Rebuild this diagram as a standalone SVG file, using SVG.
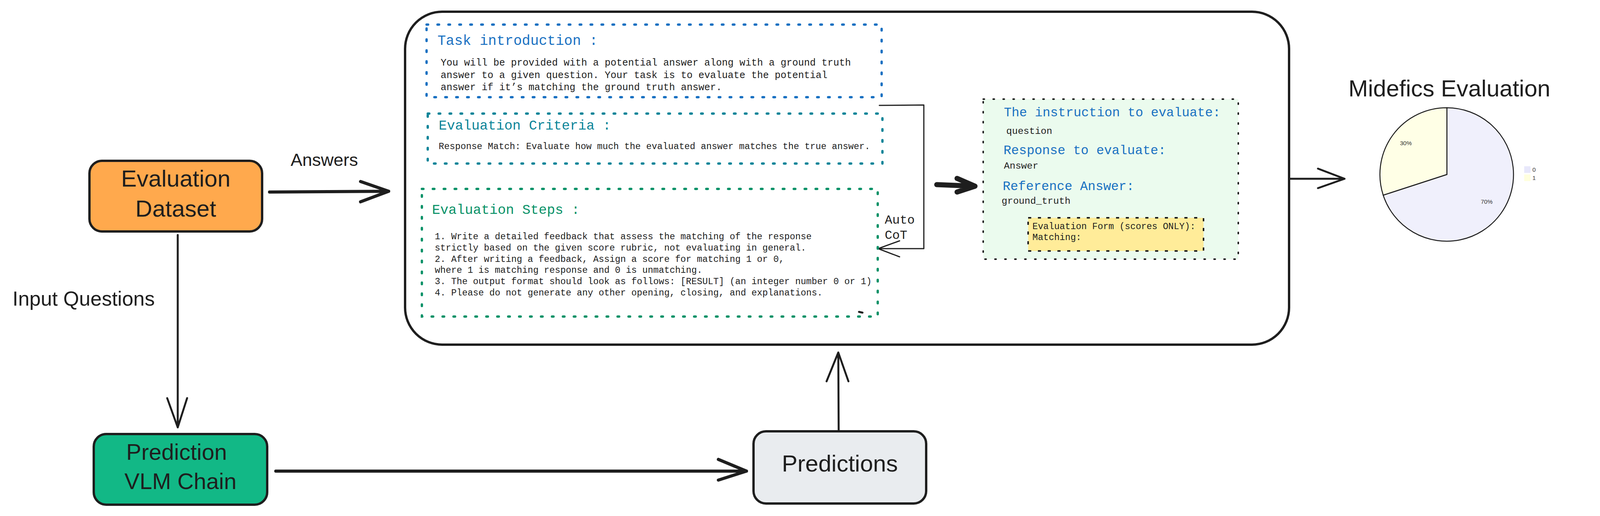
<svg xmlns="http://www.w3.org/2000/svg" width="4317" height="1322" viewBox="0 0 4317 1322">
<style>
  .hand { font-family: "Liberation Sans", "DejaVu Sans", sans-serif; fill: #1e1e1e; }
  .mono { font-family: "Liberation Mono", "DejaVu Sans Mono", monospace; fill: #1e1e1e; }
  .node { stroke: #1e1e1e; stroke-width: 6; }
  .conn { fill: none; stroke: #1e1e1e; stroke-linecap: round; stroke-linejoin: round; }
  .dotted { fill: none; stroke-width: 6; stroke-linecap: round; stroke-dasharray: 4 24; }
</style>
<rect width="4317" height="1322" fill="#ffffff"/>

<g id="connectors">
  <!-- Answers: Evaluation Dataset -> prompt box -->
  <path class="conn" stroke-width="8" d="M690 492 L995 490 M923 465 L995 490 L923 517"/>
  <!-- Input Questions: Evaluation Dataset -> Prediction VLM Chain -->
  <path class="conn" stroke-width="5" d="M455 602 L455 1095 M428 1020 L455 1095 L479 1020"/>
  <!-- Prediction VLM Chain -> Predictions -->
  <path class="conn" stroke-width="8" d="M706 1207 L1911 1207 M1839 1177 L1911 1207 L1839 1230"/>
  <!-- Predictions -> prompt box -->
  <path class="conn" stroke-width="5" d="M2147 1105 L2146 903 M2116 977 L2146 903 L2172 977"/>
  <!-- Auto CoT loop -->
  <path class="conn" stroke-width="3" d="M2251 270 L2365 269 L2365 637 L2248 637 M2303 617 L2248 637 L2303 658"/>
  <!-- prompt -> evaluation form -->
  <path class="conn" stroke-width="13" d="M2398 473 L2496 477 M2450 457 L2496 477 L2450 492"/>
  <!-- prompt box -> pie -->
  <path class="conn" stroke-width="5" d="M3301 458 L3442 458 M3374 432 L3442 458 L3374 482"/>
  <text class="hand" x="744" y="425" font-size="45">Answers</text>
  <text class="hand" x="32" y="783" font-size="52">Input Questions</text>
  <text class="mono" x="2265" y="573" font-size="32">Auto</text>
  <text class="mono" x="2265" y="612" font-size="32">CoT</text>
</g>

<g id="evaluation-dataset">
  <rect class="node" x="229" y="412" width="442" height="181" rx="32" fill="#ffa94d"/>
  <text class="hand" x="450" y="478" font-size="60" text-anchor="middle">Evaluation</text>
  <text class="hand" x="450" y="555" font-size="60" text-anchor="middle">Dataset</text>
</g>

<g id="prediction-vlm-chain">
  <rect class="node" x="240" y="1112" width="444" height="181" rx="32" fill="#12b886"/>
  <text class="hand" x="452" y="1178" font-size="58" text-anchor="middle">Prediction</text>
  <text class="hand" x="462" y="1253" font-size="58" text-anchor="middle">VLM Chain</text>
</g>

<g id="predictions">
  <rect class="node" x="1929" y="1105" width="442" height="185" rx="32" fill="#e9ecef"/>
  <text class="hand" x="2150" y="1208" font-size="60" text-anchor="middle">Predictions</text>
</g>

<g id="evaluation-prompt">
  <rect x="1037" y="30" width="2263" height="853" rx="95" fill="none" stroke="#1e1e1e" stroke-width="6"/>

  <g id="task-introduction">
    <rect class="dotted" x="1092" y="63" width="1165" height="186" stroke="#1971c2"/>
    <text class="mono" x="1120" y="115" font-size="36" style="fill:#1971c2">Task introduction :</text>
    <text class="mono" x="1128" y="168" font-size="25">You will be provided with a potential answer along with a ground truth</text>
    <text class="mono" x="1128" y="200" font-size="25">answer to a given question. Your task is to evaluate the potential</text>
    <text class="mono" x="1128" y="231" font-size="25">answer if it’s matching the ground truth answer.</text>
  </g>

  <g id="evaluation-criteria">
    <rect class="dotted" x="1095" y="291" width="1164" height="128" stroke="#0c8599"/>
    <text class="mono" x="1123" y="332" font-size="35" style="fill:#0c8599">Evaluation Criteria :</text>
    <text class="mono" x="1123" y="382" font-size="23.3">Response Match: Evaluate how much the evaluated answer matches the true answer.</text>
  </g>

  <g id="evaluation-steps">
    <rect class="dotted" x="1080" y="484" width="1167" height="327" stroke="#099268"/>
    <text class="mono" x="1106" y="548" font-size="35" style="fill:#099268">Evaluation Steps :</text>
    <text class="mono" x="1113" y="613" font-size="23.3">1. Write a detailed feedback that assess the matching of the response</text>
    <text class="mono" x="1113" y="642" font-size="23.3">strictly based on the given score rubric, not evaluating in general.</text>
    <text class="mono" x="1113" y="671" font-size="23.3">2. After writing a feedback, Assign a score for matching 1 or 0,</text>
    <text class="mono" x="1113" y="699" font-size="23.3">where 1 is matching response and 0 is unmatching.</text>
    <text class="mono" x="1113" y="728" font-size="23.3">3. The output format should look as follows: [RESULT] (an integer number 0 or 1)</text>
    <text class="mono" x="1113" y="757" font-size="23.3">4. Please do not generate any other opening, closing, and explanations.</text>
    <path d="M2199 799 L2208 801" stroke="#1e1e1e" stroke-width="5" stroke-linecap="round"/>
  </g>

  <g id="evaluation-form">
    <rect x="2517" y="254" width="653" height="410" fill="#ebfbee" stroke="#1e1e1e" stroke-width="4" stroke-linecap="round" stroke-dasharray="3 22.5"/>
    <text class="mono" x="2570" y="298" font-size="33" style="fill:#1971c2">The instruction to evaluate:</text>
    <text class="mono" x="2576" y="343" font-size="24.5">question</text>
    <text class="mono" x="2569" y="395" font-size="33" style="fill:#1971c2">Response to evaluate:</text>
    <text class="mono" x="2570" y="432" font-size="24.5">Answer</text>
    <text class="mono" x="2567" y="487" font-size="33" style="fill:#1971c2">Reference Answer:</text>
    <text class="mono" x="2564" y="522" font-size="24.5">ground_truth</text>
    <rect x="2632" y="558" width="449" height="85" fill="#ffec99" stroke="#1e1e1e" stroke-width="4" stroke-dasharray="8 17"/>
    <text class="mono" x="2643" y="587" font-size="23.2">Evaluation Form (scores ONLY):</text>
    <text class="mono" x="2643" y="615" font-size="23.2">Matching:</text>
  </g>
</g>

<g id="midefics-evaluation">
  <text class="hand" x="3452" y="247" font-size="60">Midefics Evaluation</text>
  <path d="M3704 447 L3704 276 A171 171 0 1 1 3541 500 Z" fill="#f0f0fc" stroke="#1e1e1e" stroke-width="2.5"/>
  <path d="M3704 447 L3541 500 A171 171 0 0 1 3704 276 Z" fill="#ffffe6" stroke="#1e1e1e" stroke-width="2.5"/>
  <text x="3599" y="372" font-family="Liberation Sans, sans-serif" font-size="15" fill="#333333" text-anchor="middle">30%</text>
  <text x="3806" y="522" font-family="Liberation Sans, sans-serif" font-size="15" fill="#333333" text-anchor="middle">70%</text>
  <rect x="3902" y="426" width="16" height="17" fill="#e8e8fb"/>
  <rect x="3902" y="447" width="16" height="17" fill="#ffffde"/>
  <text x="3923" y="440" font-family="Liberation Sans, sans-serif" font-size="15" fill="#333333">0</text>
  <text x="3923" y="461" font-family="Liberation Sans, sans-serif" font-size="15" fill="#333333">1</text>
</g>
</svg>
